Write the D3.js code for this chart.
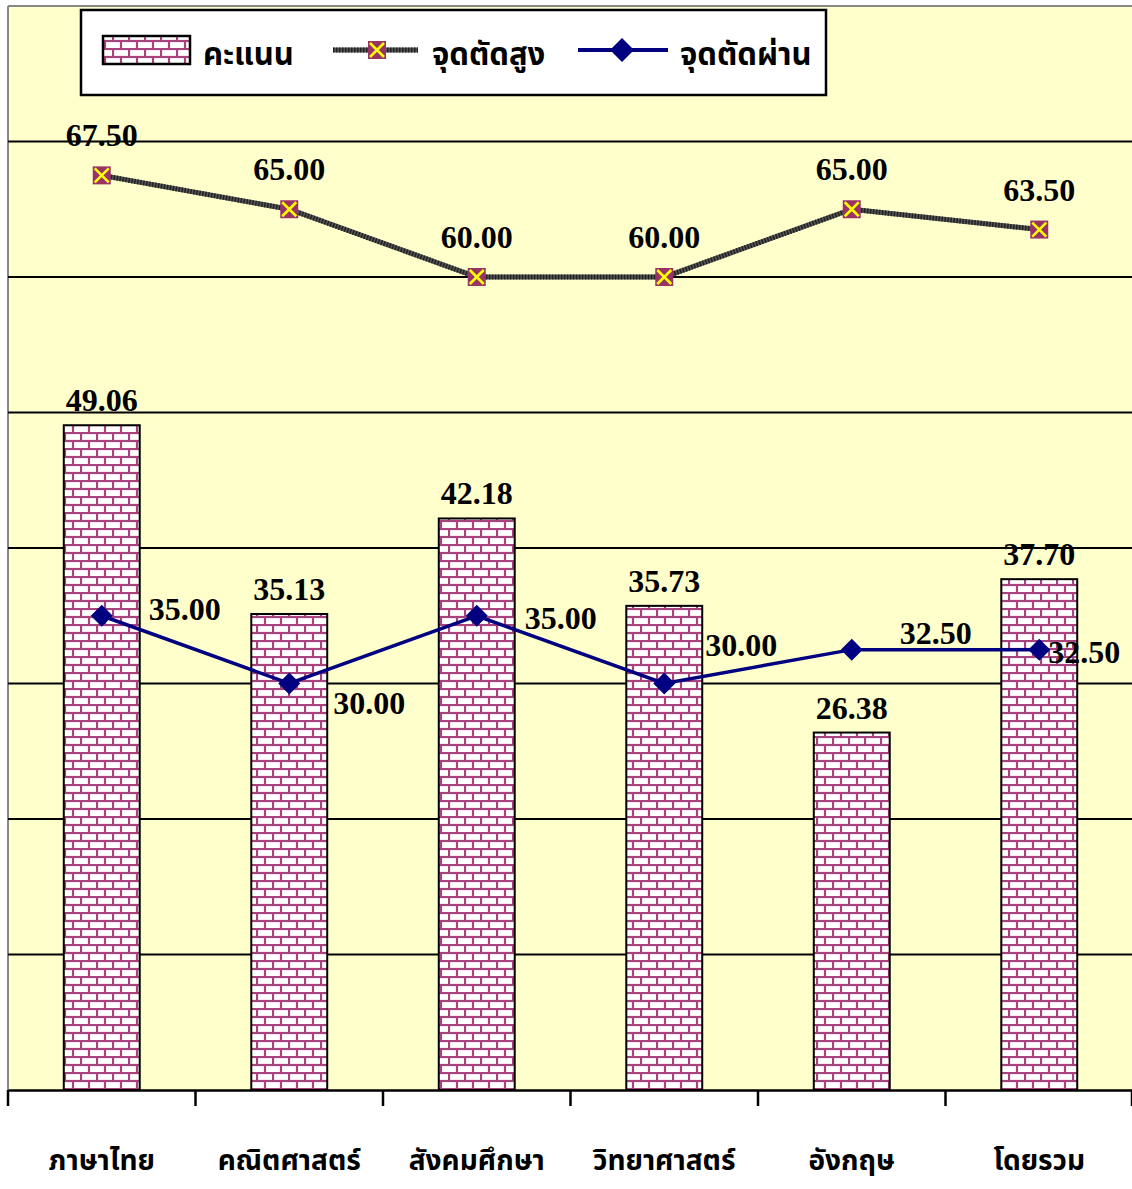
<!DOCTYPE html>
<html><head><meta charset="utf-8">
<script src="https://cdn.jsdelivr.net/npm/d3@7"></script>
<style>body{margin:0;background:#fff}svg{display:block}</style>
</head><body>
<svg id="c" width="1132" height="1189"></svg>
<script>
const categories = ["ภาษาไทย","คณิตศาสตร์","สังคมศึกษา","วิทยาศาสตร์","อังกฤษ","โดยรวม"];
const scores = [49.06, 35.13, 42.18, 35.73, 26.38, 37.70];
const highCut = [67.50, 65.00, 60.00, 60.00, 65.00, 63.50];
const passCut = [35.00, 30.00, 35.00, 30.00, 32.50, 32.50];
const yTicks = [10,20,30,40,50,60,70];
const legendLabels = ["คะแนน","จุดตัดสูง","จุดตัดผ่าน"];

// label placement style (pixel offsets of the pass-line labels from their markers)
const passLabelOffset = [[83,-7],[80,19],[84,2],[77,-39],[84,-17],[45,2]];

const svg = d3.select("#c");
const L = 8, R = 1133, T = 6, B = 1090;
const x = d3.scaleBand().domain(categories).range([L, R]);
const y = d3.scaleLinear().domain([0, 80]).range([B, T]);
const thai = "'Noto Sans Thai','Noto Sans','DejaVu Sans',sans-serif";
const num = "'Liberation Serif','Times New Roman',serif";

const defs = svg.append("defs");
const pat = defs.append("pattern").attr("id","brick").attr("patternUnits","userSpaceOnUse")
  .attr("width",16).attr("height",16);
pat.append("rect").attr("width",16).attr("height",16).attr("fill","#fff");
const mc = "#A8437E";
[[0,1,16,1],[0,9,16,9],[1,1,1,9],[9,9,9,17]].forEach(d=>{
  pat.append("line").attr("x1",d[0]).attr("y1",d[1]).attr("x2",d[2]).attr("y2",d[3])
    .attr("stroke",mc).attr("stroke-width",2.2);
});

// plot background
svg.append("rect").attr("x",L).attr("y",T).attr("width",R-L).attr("height",B-T).attr("fill","#FFFFCC");
svg.append("line").attr("x1",L).attr("x2",L).attr("y1",T).attr("y2",B).attr("stroke","#888").attr("stroke-width",2);
svg.append("line").attr("x1",L).attr("x2",R).attr("y1",T).attr("y2",T).attr("stroke","#888").attr("stroke-width",2);

// gridlines
svg.append("g").selectAll("line").data(yTicks).join("line")
  .attr("x1",L).attr("x2",R).attr("y1",d=>y(d)).attr("y2",d=>y(d))
  .attr("stroke","#000").attr("stroke-width",2);

// bars
const bw = x.bandwidth()*0.405;
const cx = d => x(d)+x.bandwidth()/2;
svg.append("g").selectAll("rect").data(categories).join("rect")
  .attr("x",d=>cx(d)-bw/2).attr("width",bw)
  .attr("y",(d,i)=>y(scores[i])).attr("height",(d,i)=>B-y(scores[i]))
  .attr("fill","url(#brick)").attr("stroke","#000").attr("stroke-width",2);

// x axis
const xAxis = d3.axisBottom(x).tickSize(0).tickFormat("");
svg.append("g").attr("transform",`translate(0,${B})`).call(xAxis).select(".domain").attr("stroke","#000").attr("stroke-width",2.5);
const bounds = categories.map(d=>x(d)).concat([R-1]);
svg.append("g").selectAll("line").data(bounds).join("line")
  .attr("x1",d=>d).attr("x2",d=>d).attr("y1",B).attr("y2",B+16)
  .attr("stroke","#000").attr("stroke-width",2.5);
svg.append("g").selectAll("text").data(categories).join("text")
  .attr("x",cx).attr("y",1170).attr("text-anchor","middle")
  .attr("font-family",thai).attr("font-weight","bold").attr("font-size",28).attr("fill","#000")
  .text(d=>d);

// lines
const lineGen = arr => d3.line().x((d,i)=>cx(categories[i])).y(d=>y(d))(arr);
svg.append("path").attr("d",lineGen(highCut)).attr("fill","none").attr("stroke","#555").attr("stroke-width",5);
svg.append("path").attr("d",lineGen(highCut)).attr("fill","none").attr("stroke","#222").attr("stroke-width",5).attr("stroke-dasharray","1.5 1.5");
svg.append("path").attr("d",lineGen(passCut)).attr("fill","none").attr("stroke","#000080").attr("stroke-width",3.5);

function xMarker(g, px, py, s){
  g.append("rect").attr("x",px-s/2).attr("y",py-s/2).attr("width",s).attr("height",s).attr("fill","#993366");
  g.append("path").attr("d",`M${px-s/2+2},${py-s/2+2}L${px+s/2-2},${py+s/2-2}M${px+s/2-2},${py-s/2+2}L${px-s/2+2},${py+s/2-2}`)
    .attr("stroke","#FFFF00").attr("stroke-width",2.5);
}
function diamond(g, px, py, s){
  g.append("path").attr("d",`M${px},${py-s}L${px+s},${py}L${px},${py+s}L${px-s},${py}Z`).attr("fill","#000080");
}
const mg = svg.append("g");
highCut.forEach((v,i)=>xMarker(mg, cx(categories[i]), y(v), 18));
passCut.forEach((v,i)=>diamond(mg, cx(categories[i]), y(v), 11));

// labels
const lab = svg.append("g").attr("font-family",num).attr("font-weight","bold").attr("font-size",32).attr("fill","#000");
scores.forEach((v,i)=>lab.append("text").attr("x",cx(categories[i])).attr("y",y(v)-14).attr("text-anchor","middle").text(v.toFixed(2)));
highCut.forEach((v,i)=>lab.append("text").attr("x",cx(categories[i])).attr("y",y(v)-29).attr("text-anchor","middle").text(v.toFixed(2)));
passCut.forEach((v,i)=>lab.append("text").attr("x",cx(categories[i])+passLabelOffset[i][0]).attr("y",y(v)+passLabelOffset[i][1]+11).attr("text-anchor","middle").text(v.toFixed(2)));

// legend
const lg = svg.append("g");
lg.append("rect").attr("x",81).attr("y",10).attr("width",745).attr("height",85).attr("fill","#fff").attr("stroke","#000").attr("stroke-width",2.5);
lg.append("rect").attr("x",103).attr("y",36).attr("width",87).attr("height",28).attr("fill","url(#brick)").attr("stroke","#000").attr("stroke-width",2.5);
lg.append("line").attr("x1",333).attr("x2",418).attr("y1",50).attr("y2",50).attr("stroke","#555").attr("stroke-width",5);
lg.append("line").attr("x1",333).attr("x2",418).attr("y1",50).attr("y2",50).attr("stroke","#222").attr("stroke-width",5).attr("stroke-dasharray","1.5 1.5");
xMarker(lg, 377, 50, 18);
lg.append("line").attr("x1",578).attr("x2",668).attr("y1",50).attr("y2",50).attr("stroke","#000080").attr("stroke-width",4);
diamond(lg, 622, 50, 12);
[[203,legendLabels[0]],[432,legendLabels[1]],[680,legendLabels[2]]].forEach(d=>{
  lg.append("text").attr("x",d[0]).attr("y",65).attr("font-family",thai).attr("font-weight","bold").attr("font-size",31).text(d[1]);
});
</script>
</body></html>
